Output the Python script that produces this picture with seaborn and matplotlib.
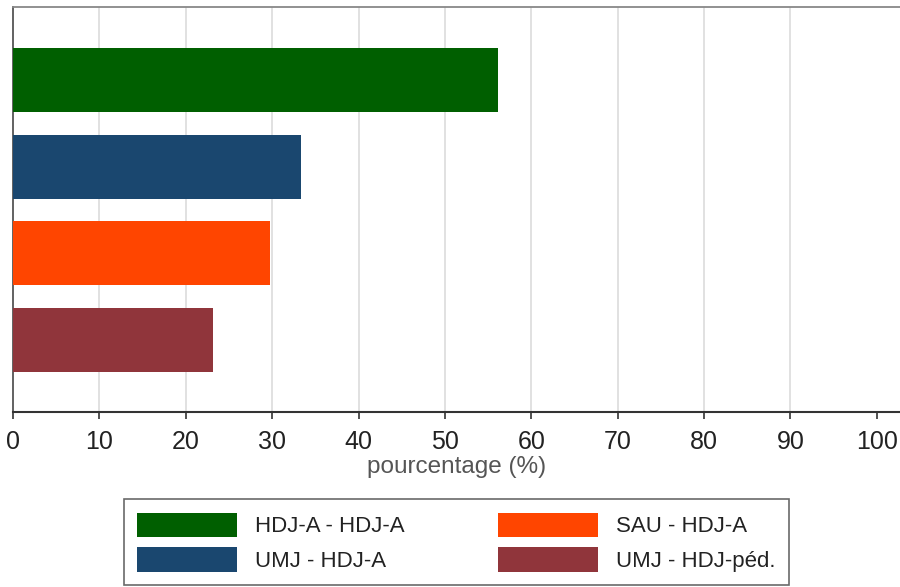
import matplotlib
matplotlib.use('Agg')
import matplotlib.pyplot as plt
import seaborn as sns
import pandas as pd

# ---- data ----
categories = ['HDJ-A - HDJ-A', 'UMJ - HDJ-A', 'SAU - HDJ-A', 'UMJ - HDJ-péd.']
pourcentages = [56.2, 33.3, 29.7, 23.1]
couleurs = ['#005f00', '#1a476f', '#ff4500', '#90353b']
xticks = [0, 10, 20, 30, 40, 50, 60, 70, 80, 90, 100]

df = pd.DataFrame({'groupe': categories, 'pct': pourcentages})

sns.set_style('white')
plt.rcParams['font.family'] = ['Liberation Sans', 'DejaVu Sans']

fig = plt.figure(figsize=(9, 5.87), dpi=100)
ax = fig.add_axes([0.0145, 0.298, 0.9855, 0.690])

sns.barplot(data=df, x='pct', y='groupe', hue='groupe', palette=couleurs,
            orient='h', width=0.74, legend=True, ax=ax, zorder=3,
            saturation=1, edgecolor='none')

ax.set_xlim(0, 102.7)
ax.set_ylim(3.83, -0.84)
ax.set_xticks(xticks)
ax.set_xticklabels([str(t) for t in xticks], fontsize=18, color='#222222')
ax.set_yticks([])
ax.set_ylabel('')
ax.set_xlabel('pourcentage (%)', fontsize=17.5, color='#555555', labelpad=1)
ax.tick_params(axis='x', direction='out', length=5, width=1.2,
               color='#333333', pad=8, bottom=True)

# vertical grid, not at the ends
ax.xaxis.grid(True, color='#dcdcdc', linewidth=1.2, zorder=0)
gl = ax.get_xgridlines()
gl[0].set_visible(False)
gl[-1].set_visible(False)

ax.spines['right'].set_visible(False)
ax.spines['left'].set_color('#555555')
ax.spines['left'].set_linewidth(1.3)
ax.spines['top'].set_color('#888888')
ax.spines['top'].set_linewidth(1.3)
ax.spines['bottom'].set_color('#333333')
ax.spines['bottom'].set_linewidth(1.5)

handles, labels = ax.get_legend_handles_labels()
ax.get_legend().remove()
leg = fig.legend(handles, labels, loc='center', bbox_to_anchor=(0.507, 0.076),
                 ncol=2, fontsize=16, frameon=True, fancybox=False,
                 edgecolor='#444444', handlelength=4.5, handleheight=1.3,
                 columnspacing=4.2, labelspacing=0.45, borderpad=0.6,
                 handletextpad=0.8, borderaxespad=0)
leg.get_frame().set_linewidth(1.2)
for t in leg.get_texts():
    t.set_color('#222222')

fig.savefig('out.png', dpi=100)
